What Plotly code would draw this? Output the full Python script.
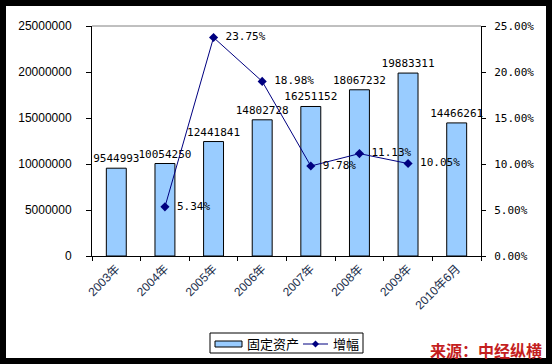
import plotly.graph_objects as go

categories = ["2003年", "2004年", "2005年", "2006年", "2007年", "2008年", "2009年", "2010年6月"]
fixed_assets = [9544993, 10054250, 12441841, 14802728, 16251152, 18067232, 19883311, 14466261]
growth_cats = ["2004年", "2005年", "2006年", "2007年", "2008年", "2009年"]
growth = [0.0534, 0.2375, 0.1898, 0.0978, 0.1113, 0.1005]
growth_labels = ["5.34%", "23.75%", "18.98%", "9.78%", "11.13%", "10.05%"]
y_ticks = [0, 5000000, 10000000, 15000000, 20000000, 25000000]
y2_ticks = [0, 0.05, 0.10, 0.15, 0.20, 0.25]
y2_tick_labels = ["0.00%", "5.00%", "10.00%", "15.00%", "20.00%", "25.00%"]
series_names = ["固定资产", "增幅"]

mono = "DejaVu Sans Mono"
bar_color = "#99ccff"
line_color = "#000080"

fig = go.Figure()
fig.add_trace(go.Bar(
    x=categories, y=fixed_assets, name=series_names[0],
    marker=dict(color=bar_color, line=dict(color="black", width=1)),
    width=0.41,
    text=[str(v) for v in fixed_assets], textposition="outside",
    constraintext="none",
    textfont=dict(family=mono, size=11, color="black"),
    cliponaxis=False,
))
fig.add_trace(go.Scatter(
    x=growth_cats, y=growth, name=series_names[1], yaxis="y2",
    mode="lines+markers+text",
    line=dict(color=line_color, width=1),
    marker=dict(symbol="diamond", size=7, color=line_color),
    text=[" " + t for t in growth_labels], textposition="middle right",
    textfont=dict(family=mono, size=11, color="black"),
    cliponaxis=False,
))

W, H = 552, 364
L, R, T, B = 92, 481, 26, 256
pw, ph = R - L, B - T

def px(x):
    return (x - L) / pw

def py(y):
    return (B - y) / ph

# legend (drawn manually so it does not push the plot margins)
legend_shapes = [
    dict(type="rect", xref="paper", yref="paper", x0=px(210), x1=px(363), y0=py(353), y1=py(333),
         fillcolor="white", line=dict(color="black", width=1)),
    dict(type="rect", xref="paper", yref="paper", x0=px(215), x1=px(242), y0=py(347), y1=py(341),
         fillcolor=bar_color, line=dict(color="black", width=1)),
    dict(type="line", xref="paper", yref="paper", x0=px(303), x1=px(328), y0=py(344), y1=py(344),
         line=dict(color=line_color, width=1)),
    dict(type="path", xref="paper", yref="paper",
         path=f"M {px(315.5)} {py(340.5)} L {px(319)} {py(344)} L {px(315.5)} {py(347.5)} L {px(312)} {py(344)} Z",
         fillcolor=line_color, line=dict(color=line_color, width=0)),
]
legend_annotations = [
    dict(text=series_names[0], xref="paper", yref="paper", x=px(245), y=py(343.5),
         xanchor="left", yanchor="middle", showarrow=False,
         font=dict(family="Noto Sans CJK SC", size=13, color="black")),
    dict(text=series_names[1], xref="paper", yref="paper", x=px(331), y=py(343.5),
         xanchor="left", yanchor="middle", showarrow=False,
         font=dict(family="Noto Sans CJK SC", size=13, color="black")),
]

fig.update_layout(
    width=W, height=H,
    margin=dict(l=L, r=W - R, t=T, b=H - B, autoexpand=False),
    paper_bgcolor="black", plot_bgcolor="white",
    showlegend=False,
    xaxis=dict(type="category", showline=True, linecolor="black", linewidth=1, automargin=False,
               ticks="outside", tickson="boundaries", ticklen=4, tickcolor="black",
               tickangle=-45, tickfont=dict(family="Liberation Sans, Noto Sans CJK SC", size=12, color="#1c2f4c"),
               showgrid=False, zeroline=False),
    yaxis=dict(range=[0, 25000000], tickvals=y_ticks, tickformat="d", automargin=False,
               showline=True, linecolor="black", linewidth=1,
               ticks="outside", ticklen=5, tickcolor="black", ticklabelstandoff=12,
               tickfont=dict(family="Liberation Sans", size=12, color="black"),
               showgrid=False, zeroline=False),
    yaxis2=dict(range=[0, 0.25], tickvals=y2_ticks, ticktext=y2_tick_labels, automargin=False,
                overlaying="y", side="right",
                showline=True, linecolor="black", linewidth=1,
                ticks="outside", ticklen=4, tickcolor="black", ticklabelstandoff=6,
                tickfont=dict(family=mono, size=11, color="black"),
                showgrid=False, zeroline=False),
    shapes=[
        dict(type="rect", xref="paper", yref="paper", x0=px(6), x1=px(546), y0=py(358), y1=py(6),
             fillcolor="white", line=dict(width=0), layer="below"),
        dict(type="line", xref="paper", yref="paper", x0=0, x1=1, y0=1, y1=1,
             line=dict(color="#808080", width=1)),
    ] + legend_shapes,
    annotations=[
        dict(text="<b>来源：中经纵横</b>", xref="paper", yref="paper", x=px(544), y=py(350),
             xanchor="right", yanchor="middle", showarrow=False,
             font=dict(family="Noto Sans CJK SC", size=16, color="#c41e1e")),
    ] + legend_annotations,
)

fig.write_html("out.html", config={"displayModeBar": False},
               post_script="document.body.style.margin='0';document.body.style.overflow='hidden';document.documentElement.style.overflow='hidden';")
